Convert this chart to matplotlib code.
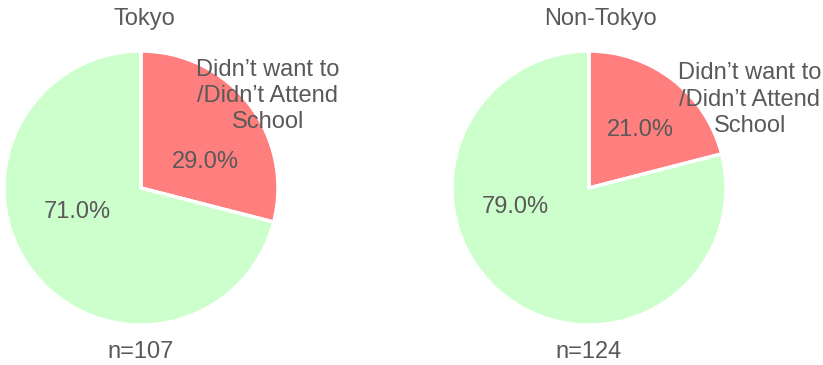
import matplotlib
matplotlib.use("Agg")
import matplotlib.pyplot as plt

regions = ["Tokyo", "Non-Tokyo"]
sample_sizes = [107, 124]
categories = ["Didn\u2019t want to\n/Didn\u2019t Attend\nSchool", ""]
tokyo_shares = [29.0, 71.0]
non_tokyo_shares = [21.0, 79.0]
colors = ["#FF7F7F", "#CCFFCC"]
text_color = "#595959"

plt.rcParams["font.family"] = ["Liberation Sans", "DejaVu Sans"]
FS = 17

fig = plt.figure(figsize=(8.23, 3.65), dpi=100)
W, H = 823, 365
R = 137

# pie centres in pixels
centres = [(141, 188), (589, 188)]
shares = [tokyo_shares, non_tokyo_shares]
# label positions in pie units (radius = 1)
pct_pos = [[(0.467, 0.19), (-0.467, -0.175)], [(0.372, 0.423), (-0.54, -0.139)]]
cat_pos = [(0.927, 0.672), (1.175, 0.645)]
title_dx = [3, 11]

for i, (cx, cy) in enumerate(centres):
    ax = fig.add_axes([(cx - R) / W, (H - cy - R) / H, 2 * R / W, 2 * R / H])
    wedges, _ = ax.pie(shares[i], colors=colors, startangle=90, counterclock=False,
                       radius=1, wedgeprops=dict(edgecolor="white", linewidth=2.5))
    ax.set_xlim(-1, 1)
    ax.set_ylim(-1, 1)
    ax.set_aspect("equal")
    ax.axis("off")
    for v, (px, py) in zip(shares[i], pct_pos[i]):
        ax.text(px, py, f"{v:.1f}%", ha="center", va="center", fontsize=FS,
                color=text_color)
    ax.text(cat_pos[i][0], cat_pos[i][1], categories[0], ha="center", va="center",
            fontsize=FS, color=text_color, linespacing=1.25, clip_on=False)
    fig.text((cx + title_dx[i]) / W, 1 - 19 / H, regions[i], ha="center", va="center",
             fontsize=FS, color=text_color)
    fig.text(cx / W, 1 - 352 / H, f"n={sample_sizes[i]}", ha="center", va="center",
             fontsize=FS, color=text_color)

fig.savefig("out.png", dpi=100)
